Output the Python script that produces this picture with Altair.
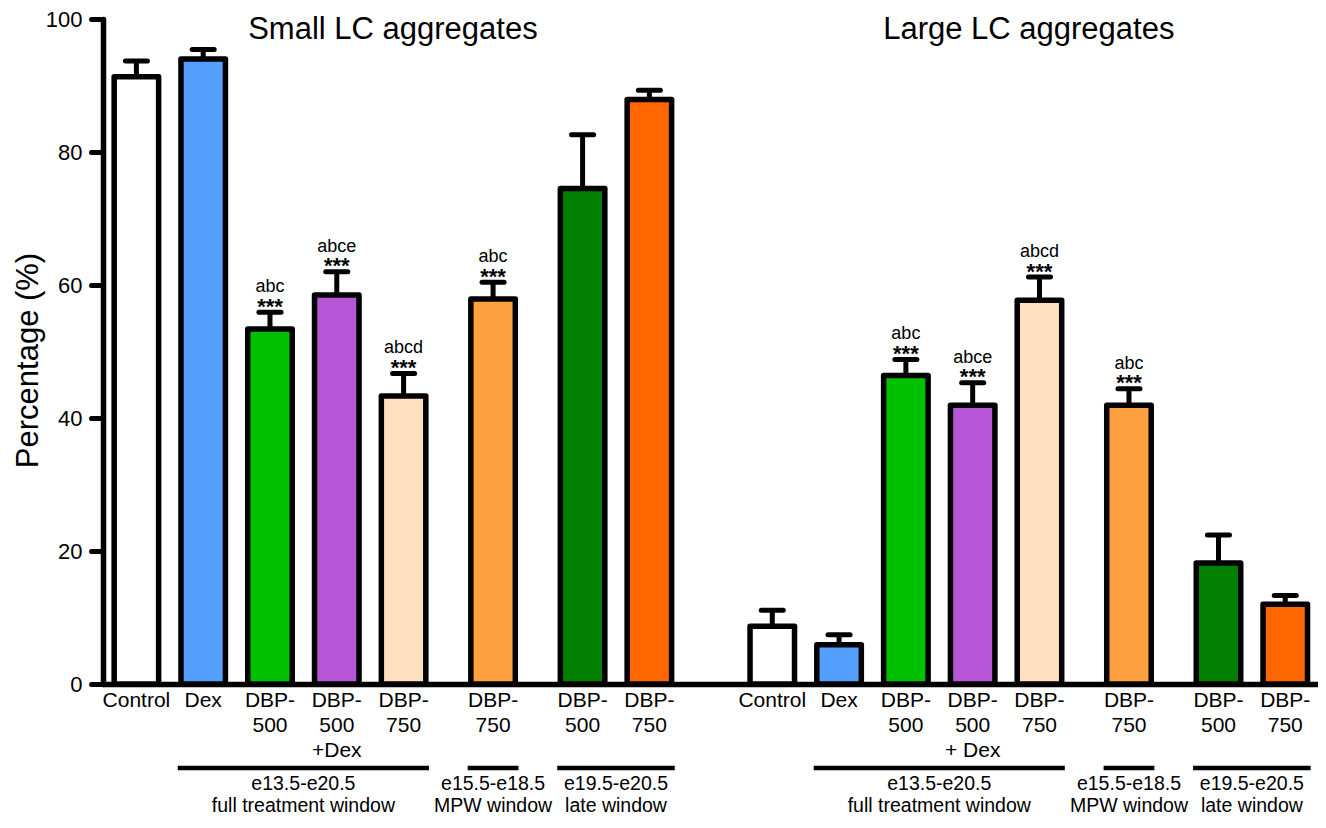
import altair as alt
import pandas as pd

# ---------------- data ----------------
panel_titles = ["Small LC aggregates", "Large LC aggregates"]

labels_small = ["Control", "Dex", "DBP-\n500", "DBP-\n500\n+Dex", "DBP-\n750",
                "DBP-\n750", "DBP-\n500", "DBP-\n750"]
labels_large = ["Control", "Dex", "DBP-\n500", "DBP-\n500\n+ Dex", "DBP-\n750",
                "DBP-\n750", "DBP-\n500", "DBP-\n750"]

values_small = [91.3, 94.0, 53.4, 58.5, 43.3, 57.9, 74.5, 87.9]
errtop_small = [93.7, 95.4, 55.9, 62.0, 46.7, 60.4, 82.6, 89.3]
values_large = [8.7, 5.9, 46.4, 41.9, 57.7, 41.9, 18.2, 12.0]
errtop_large = [11.1, 7.4, 48.8, 45.3, 61.2, 44.4, 22.4, 13.3]

letters_small = ["", "", "abc", "abce", "abcd", "abc", "", ""]
letters_large = ["", "", "abc", "abce", "abcd", "abc", "", ""]

bar_colors = ["#FFFFFF", "#55A0FF", "#00C000", "#B856D8", "#FFDFBF",
              "#FFA040", "#007F00", "#FF6600"]

# treatment window of each bar (Control has none)
windows = ["", "full", "full", "full", "full", "mpw", "late", "late"]
window_text = {
    "full": "e13.5-e20.5\nfull treatment window",
    "mpw": "e15.5-e18.5\nMPW window",
    "late": "e19.5-e20.5\nlate window",
}
# spacing clusters inside a panel (Control sits with the full-window bars)
clusters = [0, 0, 0, 0, 0, 1, 2, 2]

# ---------------- layout helpers ----------------
GROUP_GAP = 0.34
PANEL_GAP = 0.84
HALF_BAR = 0.333
HALF_CAP = 0.165
X_MAX = 18.19

rows = []
p = 0.5
for k, (labels, vals, errs, lets) in enumerate(
        [(labels_small, values_small, errtop_small, letters_small),
         (labels_large, values_large, errtop_large, letters_large)]):
    if k > 0:
        p += 1 + PANEL_GAP
    for i in range(8):
        if i > 0:
            p += 1 + (GROUP_GAP if clusters[i] != clusters[i - 1] else 0)
        rows.append(dict(panel=k, idx=i, label=labels[i], value=vals[i],
                         err=errs[i], letters=lets[i],
                         stars="***" if lets[i] else "",
                         color=bar_colors[i], window=windows[i], pos=p))
df = pd.DataFrame(rows)
df["x0"] = df["pos"] - HALF_BAR
df["x1"] = df["pos"] + HALF_BAR
df["c0"] = df["pos"] - HALF_CAP
df["c1"] = df["pos"] + HALF_CAP

grp = (df[df["window"] != ""].groupby(["panel", "window"])
       .agg(start=("pos", "min"), end=("pos", "max")).reset_index())
grp["center"] = (grp["start"] + grp["end"]) / 2
grp["start"] = grp["start"] - 0.38
grp["end"] = grp["end"] + 0.38
grp["text"] = grp["window"].map(window_text)

titles = (df.groupby("panel").agg(a=("pos", "min"), b=("pos", "max")).reset_index())
titles["center"] = (titles["a"] + titles["b"]) / 2
titles["text"] = [panel_titles[i] for i in titles["panel"]]

FONT = "Liberation Sans"
xscale = alt.Scale(domain=[0, X_MAX], nice=False, zero=False)
yscale = alt.Scale(domain=[0, 100], nice=False)
yaxis = alt.Axis(values=[0, 20, 40, 60, 80, 100], grid=False)
YT = "Percentage (%)"


def X(f):
    return alt.X(f, type="quantitative", scale=xscale, title=None)


def Y(f):
    return alt.Y(f, type="quantitative", scale=yscale, axis=yaxis, title=YT)


base = alt.Chart(df)

stems = base.mark_rule(color="black", strokeWidth=5).encode(
    x=X("pos"), y=Y("value"), y2="err")

bars = base.mark_bar(stroke="black", strokeWidth=5.5, strokeJoin="round").encode(
    x=X("x0"), x2="x1", y=Y("value"), y2=alt.datum(0),
    fill=alt.Fill("color:N", scale=None))

caps = base.mark_rule(color="black", strokeWidth=5, strokeCap="round").encode(
    x=X("c0"), x2="c1", y=Y("err"))

stars = base.mark_text(font=FONT, fontSize=22, fontWeight="bold", dy=-5.5,
                       color="black").encode(
    x=X("pos"), y=Y("err"), text="stars:N")

letters = base.mark_text(font=FONT, fontSize=18, dy=-25, color="black").encode(
    x=X("pos"), y=Y("err"), text="letters:N")

cat_labels = base.mark_text(font=FONT, fontSize=21, baseline="middle",
                            lineBreak="\n", lineHeight=25, color="black").encode(
    x=X("pos"), y=alt.value(682), text="label:N")

grp_rules = alt.Chart(grp).mark_rule(color="black", strokeWidth=4.5).encode(
    x=X("start"), x2="end", y=alt.value(749))

grp_text = alt.Chart(grp).mark_text(font=FONT, fontSize=19.5, baseline="middle",
                                    lineBreak="\n", lineHeight=21.5,
                                    color="black").encode(
    x=X("center"), y=alt.value(765), text="text:N")

title_text = alt.Chart(titles).mark_text(font=FONT, fontSize=31, baseline="middle",
                                         color="black").encode(
    x=X("center"), y=alt.value(11), text="text:N")

chart = alt.layer(stems, bars, caps, stars, letters, cat_labels, grp_rules,
                  grp_text, title_text).properties(
    width=1215, height=665,
    padding={"left": 95, "top": 11, "right": 0, "bottom": 132},
    autosize=alt.AutoSizeParams(type="none"),
).configure_view(stroke=None).configure_axisX(
    labels=False, ticks=False, grid=False, domainColor="black",
    domainWidth=5.5, domainCap="round",
).configure_axisY(
    domainColor="black", domainWidth=5.5, domainCap="round",
    tickColor="black", tickWidth=5, tickSize=12, tickCap="round",
    labelFont=FONT, labelFontSize=22, labelColor="black", labelPadding=9,
    titleFont=FONT, titleFontSize=31, titleFontWeight="normal", titleColor="black",
    titleAngle=270, titleX=-75, titleY=341, titleAlign="center",
    titleBaseline="middle",
)

chart.save("out.html", embed_options={"renderer": "svg", "actions": False})
